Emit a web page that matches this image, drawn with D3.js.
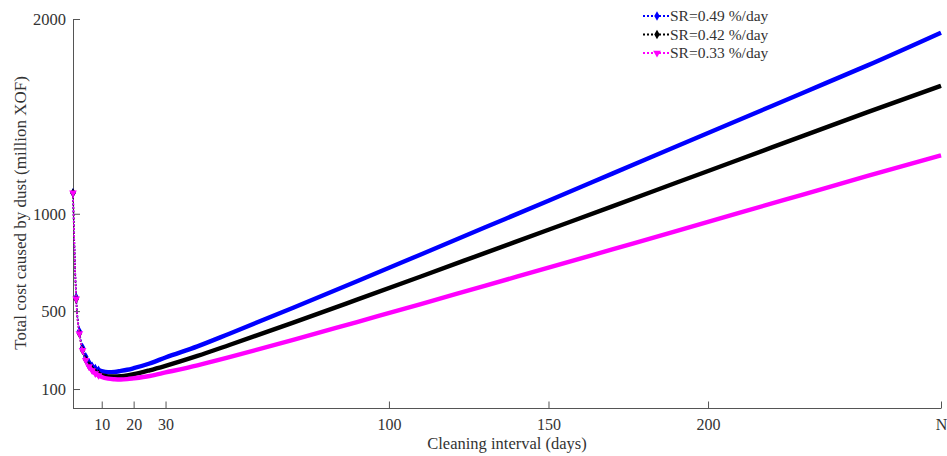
<!DOCTYPE html>
<html>
<head>
<meta charset="utf-8">
<script src="https://cdn.jsdelivr.net/npm/d3@7"></script>
<style>
  body { margin: 0; background: #fff; }
  svg text { font-family: "Liberation Serif", "Times New Roman", serif; fill: #333; }
  .axis path, .axis line { stroke: #555; }
</style>
</head>
<body>
<div id="chart"></div>
<script>
// cleaning interval (days)
var days = [1,2,3,4,5,6,7,8,9,10,12,14,16,18,20,25,30,40,50,70,90,110,130,150,170,190,210,230,250,273];

var sr049 = [1108,571,397,313,266,236,217,205,197,192,187,188,193,199,207,231,262,319,384,517,653,791,929,1067,1206,1345,1484,1623,1762,1930];
var sr042 = [1106,562,385,299,250,220,200,186,177,171,165,164,166,170,176,196,219,270,326,441,559,678,798,918,1038,1159,1280,1401,1522,1657];
var sr033 = [1108,564,385,299,248,216,195,180,170,162,153,150,149,151,155,167,185,222,264,352,444,536,630,723,817,911,1006,1100,1194,1300];

var seriesNames = ["SR=0.49 %/day", "SR=0.42 %/day", "SR=0.33 %/day"];
var seriesColors = ["#0000ff", "#000000", "#ff00ff"];
var seriesMarkers = [d3.symbolDiamond, d3.symbolDiamond, d3.symbolTriangle];

var xTicks = [10,20,30,100,150,200,273];
var xTickLabels = ["10","20","30","100","150","200","N"];
var yTicks = [100,500,1000,2000];

var width = 947, height = 456;
var svg = d3.select('#chart').append('svg')
    .attr('width', width)
    .attr('height', height);

var x = d3.scaleLinear().domain([1, 273]).range([73, 941]);
var y = d3.scaleLinear().domain([0, 2000]).range([408.5, 19]);

// axes
var xAxis = d3.axisBottom(x)
    .tickValues(xTicks)
    .tickFormat(function (d, i) { return xTickLabels[i]; })
    .tickSizeInner(-7).tickSizeOuter(0).tickPadding(10);
svg.append('g').attr('class', 'axis')
    .attr('transform', 'translate(0,408.5)')
    .call(xAxis)
    .call(function (g) {
        g.selectAll('text').style('font-size', '16px');
        g.select('.domain').attr('d', 'M' + x.range()[0] + ',0H' + x.range()[1]);
    });

var yAxis = d3.axisLeft(y)
    .tickValues(yTicks)
    .tickFormat(d3.format('d'))
    .tickSizeInner(-7).tickSizeOuter(0).tickPadding(7);
svg.append('g').attr('class', 'axis')
    .attr('transform', 'translate(73,0)')
    .call(yAxis)
    .call(function (g) {
        g.selectAll('text').style('font-size', '16.5px');
    });

svg.append('text')
    .attr('x', 507).attr('y', 449)
    .attr('text-anchor', 'middle')
    .style('font-size', '16.5px')
    .text('Cleaning interval (days)');

svg.append('text')
    .attr('transform', 'translate(26,213) rotate(-90)')
    .attr('text-anchor', 'middle')
    .style('font-size', '17px')
    .text('Total cost caused by dust (million XOF)');

// curves: thin dotted through all points, dense-marker band where points crowd
var allSeries = [sr049, sr042, sr033];
var line = d3.line()
    .x(function (d) { return x(d[0]); })
    .y(function (d) { return y(d[1]); })
    .curve(d3.curveMonotoneX);

allSeries.forEach(function (vals, k) {
    var pts = vals.map(function (v, i) { return [days[i], v]; });
    var g = svg.append('g');
    g.append('path')
        .datum(pts)
        .attr('d', line)
        .attr('fill', 'none')
        .attr('stroke', seriesColors[k])
        .attr('stroke-width', 1.6)
        .attr('stroke-dasharray', '2,1.5');
    g.append('path')
        .datum(pts.filter(function (p) { return p[0] >= 6; }))
        .attr('d', line)
        .attr('fill', 'none')
        .attr('stroke', seriesColors[k])
        .attr('stroke-width', 4.4)
        .attr('stroke-linejoin', 'round');
    g.selectAll('path.mk')
        .data(pts.filter(function (p) { return p[0] <= 9; }))
        .enter()
        .append('path')
        .attr('class', 'mk')
        .attr('d', d3.symbol().type(seriesMarkers[k]).size(26))
        .attr('transform', function (d) {
            return 'translate(' + x(d[0]) + ',' + y(d[1]) + ')' + (k == 2 ? ' rotate(180)' : '');
        })
        .attr('fill', seriesColors[k]);
});

// legend
var legend = svg.append('g');
seriesNames.forEach(function (name, k) {
    var ly = 16 + k * 18.5;
    legend.append('line')
        .attr('x1', 643).attr('x2', 669)
        .attr('y1', ly).attr('y2', ly)
        .attr('stroke', seriesColors[k])
        .attr('stroke-width', 2)
        .attr('stroke-dasharray', '2,2');
    legend.append('path')
        .attr('d', d3.symbol().type(seriesMarkers[k]).size(26))
        .attr('transform', 'translate(657,' + ly + ')' + (k == 2 ? ' rotate(180)' : ''))
        .attr('fill', seriesColors[k]);
    legend.append('text')
        .attr('x', 670).attr('y', ly)
        .attr('dy', '0.35em')
        .style('font-size', '15.5px')
        .text(name);
});
</script>
</body>
</html>
